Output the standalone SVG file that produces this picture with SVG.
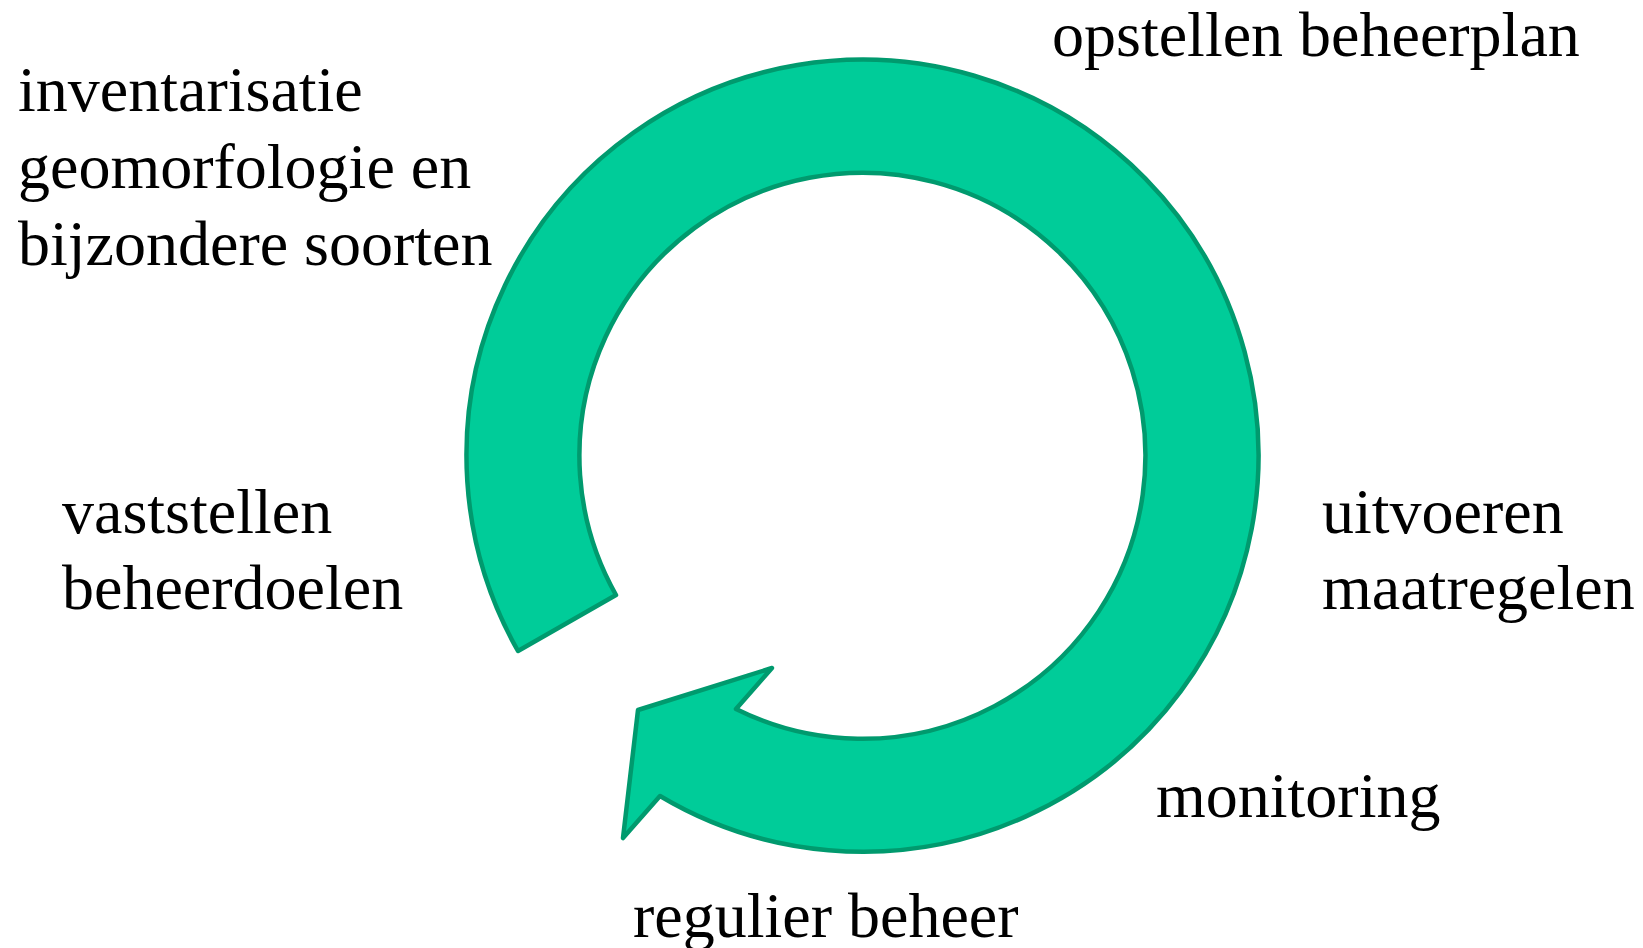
<svg xmlns="http://www.w3.org/2000/svg" width="1643" height="948" viewBox="0 0 1643 948">
<style>
.lbl{font-family:"Liberation Serif","Times New Roman",serif;font-size:64px;fill:#000;}
.arrow{fill:#00CC99;stroke:#009A6E;stroke-width:4.5;stroke-linejoin:round;}
</style>
<rect width="1643" height="948" fill="#fff"/>
<g id="connectors">
<path class="arrow" d="M518,651 A396,396 0 1 1 660,796 L623,838 L638,710 L772,668 L736,709 A283,283 0 1 0 616,595 Z"/>
</g>
<g id="node-inventarisatie"><text class="lbl" x="18" y="111">inventarisatie</text><text class="lbl" x="18" y="188">geomorfologie en</text><text class="lbl" x="18" y="265">bijzondere soorten</text></g>
<g id="node-opstellen"><text class="lbl" x="1052" y="56">opstellen beheerplan</text></g>
<g id="node-uitvoeren"><text class="lbl" x="1322" y="533">uitvoeren</text><text class="lbl" x="1322" y="609">maatregelen</text></g>
<g id="node-monitoring"><text class="lbl" x="1156" y="817">monitoring</text></g>
<g id="node-regulier"><text class="lbl" x="633" y="937">regulier beheer</text></g>
<g id="node-vaststellen"><text class="lbl" x="62" y="533">vaststellen</text><text class="lbl" x="62" y="609">beheerdoelen</text></g>
</svg>
